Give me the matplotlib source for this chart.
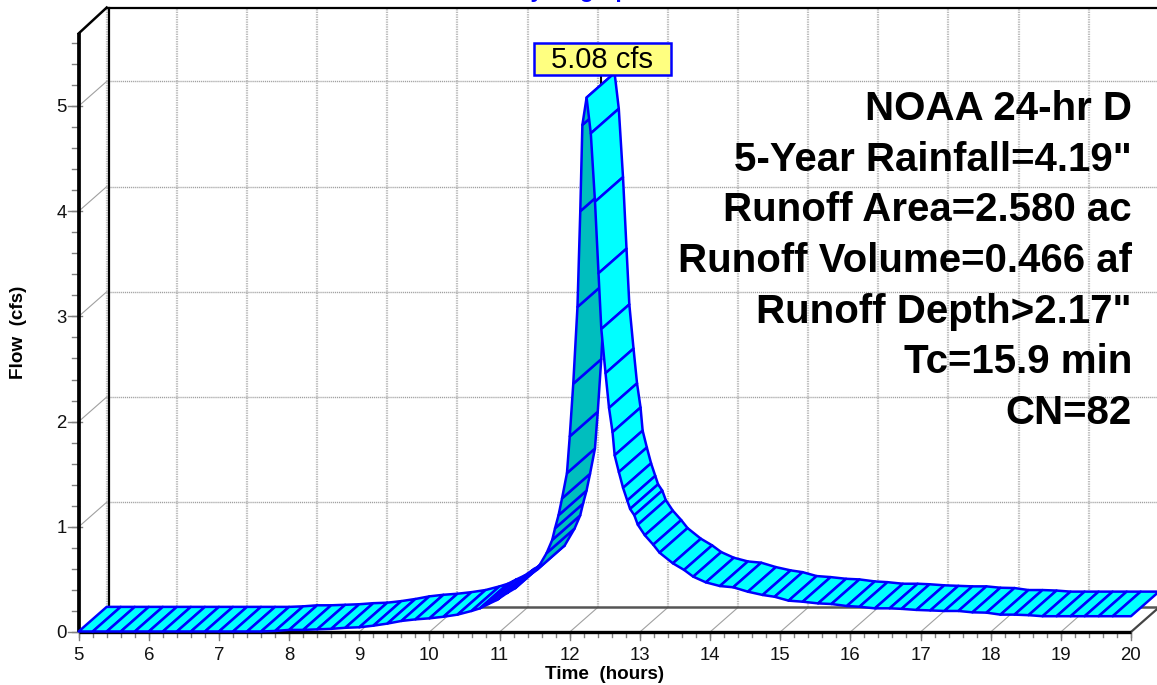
import matplotlib
matplotlib.use('Agg')
import matplotlib.pyplot as plt
import matplotlib.patches as mpatches
from matplotlib.transforms import Affine2D

plt.rcParams['font.family'] = ['Liberation Sans', 'DejaVu Sans']

# hydrograph
time_hr = [5.0, 5.2, 5.4, 5.6, 5.8, 6.0, 6.2, 6.4, 6.6, 6.8, 7.0, 7.2, 7.4, 7.6, 7.8, 8.0,
           8.2, 8.4, 8.6, 8.8, 9.0, 9.2, 9.4, 9.6, 9.8, 10.0, 10.2, 10.4, 10.6,
           10.72, 10.84, 10.96, 11.1, 11.22, 11.33, 11.53, 11.67, 11.75, 11.79, 11.84, 11.89,
           11.96, 12.0, 12.05, 12.11, 12.15, 12.18, 12.24,
           12.3, 12.36, 12.41, 12.45, 12.51, 12.56, 12.61, 12.64, 12.7, 12.76, 12.82, 12.86,
           12.92, 12.97, 13.07, 13.19, 13.28, 13.47, 13.63, 13.76, 13.94, 14.14, 14.33, 14.54,
           14.75, 14.92, 15.12, 15.32, 15.54, 15.73, 15.95, 16.13, 16.35, 16.56, 16.73, 16.94,
           17.14, 17.34, 17.54, 17.74, 17.94, 18.14, 18.34, 18.54, 18.74, 18.94, 19.14, 19.34,
           19.54, 19.74, 20.0]
flow_cfs = [0.005, 0.005, 0.005, 0.005, 0.005, 0.005, 0.005, 0.005, 0.005, 0.005, 0.005, 0.005, 0.005, 0.005, 0.01, 0.02,
            0.02, 0.025, 0.03, 0.04, 0.045, 0.06, 0.08, 0.105, 0.12, 0.13, 0.145, 0.165, 0.2,
            0.225, 0.266, 0.304, 0.368, 0.415, 0.494, 0.59, 0.75, 0.875, 0.986, 1.11, 1.27,
            1.51, 1.86, 2.36, 3.09, 4.0, 4.82, 5.08,
            4.74, 4.09, 3.41, 2.88, 2.46, 2.13, 1.9, 1.68, 1.52, 1.37, 1.25, 1.17,
            1.11, 1.02, 0.92, 0.83, 0.754, 0.653, 0.59, 0.526, 0.472, 0.437, 0.425, 0.383,
            0.352, 0.335, 0.298, 0.288, 0.272, 0.266, 0.247, 0.24, 0.225, 0.225, 0.22, 0.21,
            0.205, 0.2, 0.2, 0.187, 0.184, 0.165, 0.165, 0.16, 0.15, 0.15, 0.15, 0.15,
            0.15, 0.15, 0.15]

x_major = [5, 6, 7, 8, 9, 10, 11, 12, 13, 14, 15, 16, 17, 18, 19, 20]
y_major = [0, 1, 2, 3, 4, 5]
x_minor = [5 + 0.2 * i for i in range(76)]
y_minor = [0.2 * i for i in range(29)]

notes = ['NOAA 24-hr D', '5-Year Rainfall=4.19"', 'Runoff Area=2.580 ac', 'Runoff Volume=0.466 af',
         'Runoff Depth>2.17"', 'Tc=15.9 min', 'CN=82']
peak_label = '5.08 cfs'

# scale of the chart in pixels
W, H = 1157, 685
X0, PX_HR = 78.7, 70.15
Y0, PX_CFS = 632.0, 105.2
DX = 28.0 / PX_HR     # depth of the fake 3d box
DY = 24.6 / PX_CFS
TOP = 5.69

fig = plt.figure(figsize=(W / 100, H / 100), dpi=100)
ax = fig.add_axes([0, 0, 1, 1])
ax.set_xlim(5 - X0 / PX_HR, 5 + (W - X0) / PX_HR)
ax.set_ylim(-(H - Y0) / PX_CFS, Y0 / PX_CFS)
ax.axis('off')

# pixel coordinates, y going down, for the texts and the label box
px = Affine2D().scale(1 / W, -1 / H).translate(0, 1) + fig.transFigure

x_end = ax.get_xlim()[1]

# back wall grid
for t in x_major[:-1]:
    ax.plot([t + DX, t + DX], [DY, TOP + DY], color='#bdbdbd', lw=1.6, ls=(0, (0.6, 0.5)), zorder=1)
for q in y_major[1:]:
    ax.plot([5 + DX, x_end], [q + DY, q + DY], color='#a0a0a0', lw=1.0, ls=(0, (0.8, 0.6)), zorder=1)

# floor and side wall lines going back from the ticks
for t in x_major[1:-1]:
    ax.plot([t, t + DX], [0, DY], color='#a0a0a0', lw=0.8, zorder=1)
for q in y_major[1:]:
    ax.plot([5, 5 + DX], [q, q + DY], color='#a0a0a0', lw=0.8, zorder=1)

# box outline
ax.plot([5 + DX, x_end], [DY, DY], color='#555555', lw=1.8, zorder=2)
ax.plot([20, 20 + DX], [0, DY], color='#444444', lw=1.6, zorder=2)
ax.plot([5 + DX + 2 / PX_HR] * 2, [DY, TOP + DY + 0.012], color='black', lw=1.6, zorder=2)
ax.plot([5 + DX, x_end], [TOP + DY + 0.012] * 2, color='black', lw=1.6, zorder=2)
ax.plot([5, 5 + DX], [TOP, TOP + DY + 0.012], color='black', lw=1.8, zorder=2)

# ticks
for t in x_minor:
    ax.plot([t, t], [0, -5 / PX_CFS], color='#808080', lw=1.0, zorder=2)
for t in x_major:
    ax.plot([t, t], [0, -8 / PX_CFS], color='#808080', lw=1.0, zorder=2)
    ax.text(t, -23 / PX_CFS, str(t), ha='center', va='center', fontsize=13.4, color='#111111')
for q in y_minor:
    ax.plot([5 - 7 / PX_HR, 5], [q, q], color='#808080', lw=1.0, zorder=2)
for q in y_major:
    ax.plot([5 - 11 / PX_HR, 5 + 3 / PX_HR], [q, q], color='#808080', lw=1.0, zorder=2)
    ax.text(5 - 12 / PX_HR, q - 2 / PX_CFS, str(q), ha='right', va='center', fontsize=13.4, color='#111111')

# front axis lines
ax.plot([5, 5], [0, TOP], color='black', lw=2.7, zorder=3, solid_capstyle='butt')
ax.plot([5, 20], [0, 0], color='black', lw=2.4, zorder=3, solid_capstyle='butt')

# stem of the peak label
i_peak = flow_cfs.index(max(flow_cfs))
ax.plot([time_hr[i_peak] + DX / 2] * 2, [flow_cfs[i_peak] + DY / 2, flow_cfs[i_peak] + DY], color='black', lw=1.5, zorder=3)

# ribbon, drawn in time order so the falling limb covers the rising one
for i in range(len(time_hr) - 1):
    t1, t2 = time_hr[i], time_hr[i + 1]
    q1, q2 = flow_cfs[i], flow_cfs[i + 1]
    under = (q2 - q1) * PX_CFS * DX * PX_HR > (t2 - t1) * PX_HR * DY * PX_CFS
    quad = mpatches.Polygon([(t1, q1), (t2, q2), (t2 + DX, q2 + DY), (t1 + DX, q1 + DY)],
                            closed=True, facecolor='#00bebe' if under else '#00ffff',
                            edgecolor='#0000ff', lw=1.8, joinstyle='round', zorder=4 + i * 0.001)
    ax.add_patch(quad)

# peak label
ax.add_patch(mpatches.Rectangle((533.5, 42.5), 137, 32, transform=px, facecolor='#ffff80',
                                edgecolor='#0000ff', lw=1.8, zorder=6))
ax.text(602, 60.5, peak_label, transform=px, ha='center', va='center', fontsize=21, color='black', zorder=7)

# summary block
for i, line in enumerate(notes):
    ax.text(1132, 120 + 50.7 * i, line, transform=px, ha='right', va='baseline',
            fontsize=29, fontweight='bold', color='black', zorder=7)

# title sits almost entirely above the figure edge
ax.text(579, -3, 'Hydrograph', transform=px, ha='center', va='baseline', fontsize=16.5,
        fontweight='bold', color='#0000ff', clip_on=False)

ax.text(605, 675, 'Time  (hours)', transform=px, ha='center', va='center', fontsize=13.6, fontweight='bold')
ax.text(19, 332, 'Flow  (cfs)', transform=px, ha='center', va='center', rotation=90, fontsize=13.6, fontweight='bold')

fig.savefig('out.png', dpi=100)
